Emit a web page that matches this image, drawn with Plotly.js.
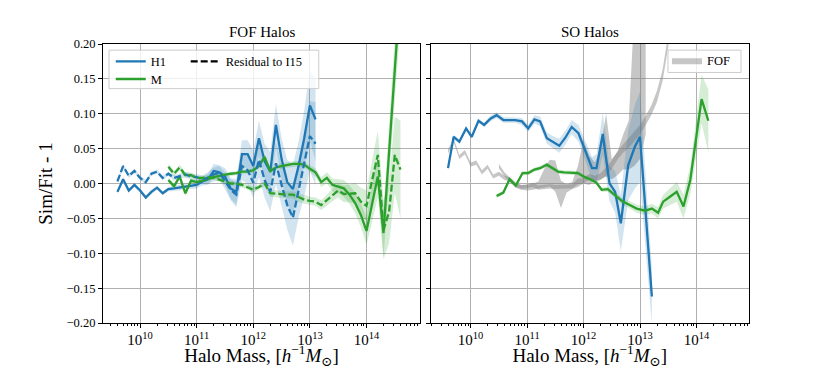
<!DOCTYPE html>
<html>
<head>
<meta charset="utf-8">
<script src="https://cdn.plot.ly/plotly-3.0.1.min.js"></script>
<style>html,body{margin:0;padding:0;background:#fff;}#chart{width:830px;height:369px;}</style>
</head>
<body>
<div id="chart"></div>
<script>
// ---------- FOF panel (left) ----------
const fofH1LogM = [9.6,9.7,9.8,9.9,10.0,10.1,10.2,10.3,10.4,10.5,10.6,10.7,10.8,10.9,11.0,11.1,11.2,11.3,11.4,11.5,11.6,11.7,11.8,11.9,12.0,12.1,12.2,12.3,12.4,12.5,12.6,12.7,12.8,12.9,13.0,13.1];
const fofH1 = [-0.012,0.006,-0.010,-0.002,-0.010,-0.020,-0.012,-0.006,-0.014,-0.008,-0.007,-0.006,-0.004,-0.003,-0.002,0.003,0.006,0.018,0.016,0.010,-0.007,-0.012,0.042,0.042,0.025,0.065,0.032,0.017,0.084,0.035,0.002,-0.008,0.025,0.065,0.112,0.092];
const fofH1Err = [0.003,0.003,0.003,0.003,0.003,0.003,0.003,0.003,0.003,0.003,0.004,0.004,0.004,0.005,0.005,0.006,0.008,0.010,0.010,0.012,0.015,0.018,0.020,0.020,0.022,0.025,0.025,0.028,0.030,0.030,0.032,0.035,0.035,0.040,0.050,0.060];
const fofH1Res = [0.003,0.025,0.011,0.018,0.008,0.002,0.014,0.017,0.008,0.014,0.008,0.011,0.013,0.010,0.009,0.006,0.008,0.013,0.015,0.004,-0.009,-0.016,0.025,0.019,0.001,0.034,0.005,-0.012,0.029,-0.002,-0.031,-0.049,-0.009,0.027,0.068,0.057];
const fofH1ResErr = [0.003,0.003,0.003,0.003,0.003,0.003,0.003,0.003,0.003,0.003,0.004,0.004,0.004,0.005,0.005,0.006,0.008,0.010,0.010,0.012,0.015,0.018,0.020,0.020,0.022,0.025,0.025,0.028,0.030,0.030,0.035,0.040,0.040,0.045,0.050,0.060];

const fofMLogM = [10.5,10.6,10.7,10.8,10.9,11.0,11.1,11.2,11.3,11.4,11.5,11.6,11.7,11.8,11.9,12.0,12.1,12.2,12.3,12.4,12.5,12.6,12.7,12.8,12.9,13.0,13.1,13.2,13.3,13.4,13.5,13.6,13.7,13.8,13.9,14.0,14.1,14.2,14.3,14.4,14.5,14.6];
const fofM = [0.005,-0.004,0.010,-0.014,0.004,0.002,0.004,0.007,0.009,0.011,0.013,0.014,0.015,0.017,0.017,0.019,0.025,0.038,0.018,0.023,0.025,0.027,0.028,0.028,0.027,0.021,0.016,0.002,0.008,-0.002,-0.004,-0.007,-0.016,-0.028,-0.045,-0.068,-0.029,0.010,-0.071,0.043,0.160,0.280];
const fofMErr = [0.004,0.004,0.004,0.004,0.003,0.003,0.003,0.003,0.003,0.003,0.003,0.003,0.003,0.003,0.003,0.003,0.004,0.004,0.004,0.004,0.004,0.004,0.004,0.004,0.004,0.005,0.006,0.007,0.008,0.009,0.010,0.012,0.013,0.015,0.017,0.020,0.025,0.030,0.035,0.040,0.045,0.050];
const fofMRes = [0.024,0.014,0.023,0.012,0.012,0.008,0.008,0.009,0.008,0.006,0.003,0.000,0.000,-0.002,-0.005,-0.009,-0.005,0.000,-0.014,-0.015,-0.016,-0.016,-0.016,-0.020,-0.023,-0.025,-0.026,-0.031,-0.024,-0.016,-0.010,-0.015,-0.014,-0.014,-0.026,-0.032,0.005,0.041,-0.067,-0.040,0.041,0.020];
const fofMResErr = [0.004,0.004,0.004,0.004,0.003,0.003,0.003,0.003,0.003,0.003,0.003,0.003,0.003,0.004,0.004,0.004,0.004,0.004,0.005,0.005,0.005,0.005,0.005,0.006,0.006,0.006,0.006,0.007,0.008,0.009,0.010,0.012,0.013,0.015,0.020,0.022,0.028,0.035,0.042,0.045,0.055,0.070];

// ---------- SO panel (right) ----------
const soH1LogM = [9.60,9.70,9.80,9.92,10.02,10.14,10.24,10.35,10.46,10.58,10.68,10.79,10.91,11.02,11.13,11.23,11.35,11.46,11.57,11.68,11.79,11.91,12.03,12.15,12.23,12.34,12.46,12.56,12.66,12.79,12.91,13.00,13.21];
const soH1 = [0.022,0.067,0.060,0.079,0.067,0.090,0.084,0.093,0.098,0.091,0.091,0.091,0.089,0.079,0.092,0.089,0.065,0.059,0.054,0.066,0.081,0.072,0.048,0.022,0.022,0.071,0.000,-0.012,-0.057,0.026,0.053,0.067,-0.162];
const soH1Err = [0.003,0.003,0.003,0.003,0.003,0.003,0.003,0.004,0.004,0.004,0.004,0.004,0.005,0.005,0.006,0.007,0.008,0.009,0.010,0.010,0.010,0.012,0.014,0.016,0.020,0.030,0.025,0.030,0.040,0.050,0.060,0.065,0.040];

const soMLogM = [10.46,10.58,10.69,10.80,10.92,11.02,11.13,11.23,11.35,11.44,11.55,11.65,11.73,11.81,11.90,12.00,12.12,12.23,12.32,12.43,12.53,12.68,12.80,12.94,13.09,13.21,13.32,13.41,13.53,13.65,13.77,13.89,14.09,14.21];
const soM = [-0.018,-0.013,0.006,-0.003,0.015,0.015,0.020,0.022,0.027,0.022,0.017,0.016,0.016,0.015,0.015,0.010,0.006,0.001,-0.009,-0.008,-0.015,-0.025,-0.030,-0.036,-0.039,-0.036,-0.042,-0.026,-0.019,-0.012,-0.033,0.005,0.121,0.090];
const soMErr = [0.003,0.003,0.003,0.003,0.003,0.003,0.003,0.003,0.003,0.003,0.003,0.003,0.003,0.003,0.003,0.003,0.003,0.003,0.003,0.004,0.004,0.005,0.005,0.006,0.006,0.007,0.008,0.010,0.012,0.014,0.017,0.020,0.035,0.045];

// FOF curves re-plotted in the SO panel (grey bands)
const fofGreyALogM = [9.6,9.7,9.8,9.9,10.0,10.1,10.2,10.3,10.4,10.5,10.6,10.7,10.8,10.9,11.0,11.1,11.2,11.3,11.4,11.5,11.6,11.7,11.8,11.9,12.0,12.1,12.2,12.3,12.4,12.5,12.6,12.7,12.8,12.9,13.0,13.1,13.2,13.3,13.4,13.5];
const fofGreyA = [0.046,0.062,0.038,0.045,0.027,0.030,0.016,0.024,0.010,0.014,0.008,0.006,-0.002,-0.005,-0.004,-0.002,-0.006,-0.005,-0.004,-0.005,-0.005,-0.004,-0.004,0.003,0.004,0.010,0.006,0.010,0.017,0.027,0.040,0.050,0.058,0.068,0.077,0.090,0.105,0.125,0.155,0.205];
const fofGreyAErr = [0.003,0.003,0.003,0.003,0.003,0.003,0.003,0.003,0.003,0.003,0.003,0.003,0.003,0.003,0.003,0.003,0.003,0.003,0.003,0.003,0.003,0.003,0.003,0.004,0.004,0.004,0.005,0.005,0.006,0.006,0.006,0.006,0.007,0.007,0.007,0.007,0.007,0.008,0.008,0.009];
const fofGreyBLogM = [10.5,10.6,10.7,10.8,10.9,11.0,11.1,11.2,11.3,11.4,11.5,11.6,11.7,11.8,11.9,12.0,12.1,12.2,12.3,12.4,12.5,12.6,12.7,12.8,12.9,13.0,13.1];
const fofGreyBLow = [0.022,0.010,0.002,-0.006,-0.009,-0.010,-0.009,-0.008,-0.006,-0.004,-0.012,-0.035,-0.013,-0.008,-0.005,0.000,-0.002,0.004,0.006,0.010,0.006,0.012,0.020,0.020,0.025,0.035,0.070];
const fofGreyBHigh = [0.028,0.016,0.008,0.000,-0.002,-0.002,0.000,0.003,0.020,0.034,0.033,0.004,-0.001,0.002,0.025,0.062,0.040,0.030,0.050,0.100,0.035,0.045,0.070,0.090,0.250,0.260,0.250];

// ---------- helpers ----------
const toMass = a => a.map(v => Math.pow(10, v));
const add = (a, b, s) => a.map((v, i) => v + s * b[i]);
const BLUE = '#1f77b4', GREEN = '#2ca02c';
const BLUE_F = 'rgba(31,119,180,0.2)', GREEN_F = 'rgba(44,160,44,0.2)', GREY_F = 'rgba(128,128,128,0.45)';
const FONT = 'Liberation Serif, DejaVu Serif, serif';

function band(logm, lo, hi, fill, xa, ya, extra) {
  const m = toMass(logm);
  return Object.assign({
    x: m.concat(m.slice().reverse()),
    y: hi.concat(lo.slice().reverse()),
    type: 'scatter', mode: 'lines', fill: 'toself', fillcolor: fill,
    line: {width: 0}, hoverinfo: 'skip', showlegend: false,
    xaxis: xa, yaxis: ya
  }, extra || {});
}
function line(logm, y, color, dash, xa, ya, extra) {
  return Object.assign({
    x: toMass(logm), y: y, type: 'scatter', mode: 'lines',
    line: {color: color, width: 2.3, dash: dash || 'solid'},
    showlegend: false, xaxis: xa, yaxis: ya
  }, extra || {});
}

const traces = [
  band(fofH1LogM, add(fofH1, fofH1Err, -1), add(fofH1, fofH1Err, 1), BLUE_F, 'x', 'y'),
  band(fofH1LogM, add(fofH1Res, fofH1ResErr, -1), add(fofH1Res, fofH1ResErr, 1), BLUE_F, 'x', 'y'),
  band(fofMLogM, add(fofM, fofMErr, -1), add(fofM, fofMErr, 1), GREEN_F, 'x', 'y'),
  band(fofMLogM, add(fofMRes, fofMResErr, -1), add(fofMRes, fofMResErr, 1), GREEN_F, 'x', 'y'),
  line(fofH1LogM, fofH1, BLUE, 'solid', 'x', 'y', {name: 'H1', showlegend: true, legend: 'legend'}),
  line(fofMLogM, fofM, GREEN, 'solid', 'x', 'y', {name: 'M', showlegend: true, legend: 'legend4'}),
  line(fofH1LogM, fofH1Res, BLUE, '7px,3px', 'x', 'y'),
  line(fofMLogM, fofMRes, GREEN, '7px,3px', 'x', 'y'),
  {x: [null], y: [null], type: 'scatter', mode: 'lines', name: 'Residual to I15',
   line: {color: 'black', width: 2.3, dash: '7px,3px'}, xaxis: 'x', yaxis: 'y', legend: 'legend2', showlegend: true},
  band(fofGreyALogM, add(fofGreyA, fofGreyAErr, -1), add(fofGreyA, fofGreyAErr, 1), GREY_F, 'x2', 'y2',
       {name: 'FOF', showlegend: true, legend: 'legend3'}),
  band(fofGreyBLogM, fofGreyBLow, fofGreyBHigh, GREY_F, 'x2', 'y2'),
  band(soH1LogM, add(soH1, soH1Err, -1), add(soH1, soH1Err, 1), BLUE_F, 'x2', 'y2'),
  band(soMLogM, add(soM, soMErr, -1), add(soM, soMErr, 1), GREEN_F, 'x2', 'y2'),
  line(soH1LogM, soH1, BLUE, 'solid', 'x2', 'y2'),
  line(soMLogM, soM, GREEN, 'solid', 'x2', 'y2')
];

const xTitle = 'Halo Mass, [<i>h</i><sup>\u22121</sup><i>M</i><sub>\u2299</sub>]';
function xaxis(domain, range, anchor) {
  return {
    domain: domain, type: 'log', range: range, dtick: 1, exponentformat: 'power',
    showgrid: true, gridcolor: '#b0b0b0', gridwidth: 1, zeroline: false,
    ticks: 'outside', ticklen: 4, tickcolor: 'black', tickwidth: 1,
    minor: {ticks: 'outside', ticklen: 2, tickcolor: 'black', dtick: 'D1', showgrid: false},
    showline: true, linecolor: 'black', linewidth: 1, mirror: true,
    tickfont: {family: FONT, size: 12, color: 'black'},
    title: {text: xTitle, font: {family: FONT, size: 19, color: 'black'}, standoff: 6},
    anchor: anchor
  };
}
function yaxis(anchor, labels) {
  return {
    domain: [0, 1], range: [-0.2, 0.2], dtick: 0.05, tick0: 0, tickformat: '.2f',
    showgrid: true, gridcolor: '#b0b0b0', gridwidth: 1, zeroline: false,
    ticks: 'outside', ticklen: 4, tickcolor: 'black', tickwidth: 1,
    showline: true, linecolor: 'black', linewidth: 1, mirror: true,
    showticklabels: labels,
    tickfont: {family: FONT, size: 12.5, color: 'black'},
    title: labels ? {text: 'Sim/Fit - 1', font: {family: FONT, size: 19, color: 'black'}, standoff: 8} : {text: ''},
    anchor: anchor
  };
}
const legFont = {family: FONT, size: 12.5, color: 'black'};
const layout = {
  width: 830, height: 369,
  margin: {l: 103, r: 81, t: 44, b: 46},
  paper_bgcolor: 'white', plot_bgcolor: 'white',
  font: {family: FONT, color: 'black'},
  xaxis: xaxis([0, 0.4907], [9.345, 14.945], 'y'),
  xaxis2: xaxis([0.507, 1], [9.29, 14.93], 'y2'),
  yaxis: yaxis('x', true),
  yaxis2: yaxis('x2', false),
  legend: {x: 0.012, y: 0.99, xanchor: 'left', yanchor: 'top', bgcolor: 'rgba(0,0,0,0)', font: legFont},
  legend4: {x: 0.012, y: 0.927, xanchor: 'left', yanchor: 'top', bgcolor: 'rgba(0,0,0,0)', font: legFont},
  legend2: {x: 0.128, y: 0.99, xanchor: 'left', yanchor: 'top', bgcolor: 'rgba(0,0,0,0)', font: legFont},
  legend3: {x: 0.873, y: 0.994, xanchor: 'left', yanchor: 'top', bgcolor: 'rgba(0,0,0,0)', font: legFont},
  shapes: [
    {type: 'rect', xref: 'paper', yref: 'paper', x0: 0.0093, x1: 0.334, y0: 0.84, y1: 0.978,
     fillcolor: 'rgba(255,255,255,0.8)', line: {color: '#cccccc', width: 1}, layer: 'above'},
    {type: 'rect', xref: 'paper', yref: 'paper', x0: 0.8746, x1: 0.9876, y0: 0.898, y1: 0.978,
     fillcolor: 'rgba(255,255,255,0.8)', line: {color: '#cccccc', width: 1}, layer: 'above'}
  ],
  annotations: [
    {text: 'FOF Halos', xref: 'paper', yref: 'paper', x: 0.2455, y: 1, xanchor: 'center', yanchor: 'bottom',
     yshift: 2, showarrow: false, font: {family: FONT, size: 15, color: 'black'}},
    {text: 'SO Halos', xref: 'paper', yref: 'paper', x: 0.7535, y: 1, xanchor: 'center', yanchor: 'bottom',
     yshift: 2, showarrow: false, font: {family: FONT, size: 15, color: 'black'}}
  ]
};

Plotly.newPlot('chart', traces, layout, {staticPlot: true, displayModeBar: false});
</script>
</body>
</html>
